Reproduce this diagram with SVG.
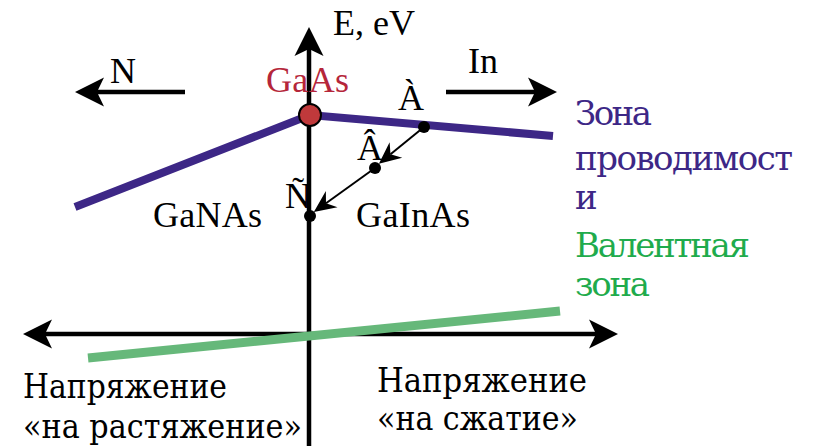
<svg xmlns="http://www.w3.org/2000/svg" width="814" height="446" viewBox="0 0 814 446">
<style>
text{font-family:"Liberation Serif","Times New Roman",serif;fill:#000}
.lbl{font-size:36px}
.side{font-size:34px;font-family:"DejaVu Serif","Liberation Serif",serif}
.bot{font-size:34px;font-family:"DejaVu Serif Condensed","DejaVu Serif","Liberation Serif",serif}
.purple{fill:#3d2786}
.green{fill:#1fab4c}
.axis{stroke:#000;stroke-width:4.5;fill:none}
.thin{stroke:#000;stroke-width:2;fill:none}
.dot{fill:#000}
</style>
<defs>
<marker id="big" markerUnits="userSpaceOnUse" orient="auto-start-reverse" markerWidth="40" markerHeight="40" refX="0" refY="0" viewBox="-10 -20 40 40" overflow="visible">
<path d="M22,0 L-7,-14.5 L0,0 L-7,14.5 Z" fill="#000"/>
</marker>
<marker id="small" markerUnits="userSpaceOnUse" orient="auto" markerWidth="30" markerHeight="30" refX="0" refY="0" viewBox="-10 -15 30 30" overflow="visible">
<path d="M15,0 L-7,-10 L0,0 L-7,10 Z" fill="#000"/>
</marker>
</defs>
<g id="connectors">
<line class="axis" x1="309" y1="446" x2="309" y2="49" marker-end="url(#big)"/>
<line class="axis" x1="45" y1="334" x2="596" y2="334" marker-start="url(#big)" marker-end="url(#big)"/>
<line class="axis" x1="185" y1="92" x2="97" y2="92" marker-end="url(#big)"/>
<line class="axis" x1="446" y1="92" x2="535" y2="92" marker-end="url(#big)"/>
<polyline id="conduction" points="75,207 310,115 553,136" fill="none" stroke="#3d2786" stroke-width="8"/>
<line id="valence" x1="88" y1="358" x2="560" y2="311" stroke="#66b87a" stroke-width="9"/>
<line class="thin" x1="424" y1="127" x2="390.5" y2="154.3" marker-end="url(#small)"/>
<line class="thin" x1="375" y1="168" x2="326" y2="203.2" marker-end="url(#small)"/>
</g>
<g id="gaas">
<circle cx="310" cy="115" r="11" fill="#c0393b" stroke="#000" stroke-width="2"/>
<text class="lbl" x="266" y="92" style="fill:#b5263a" textLength="83">GaAs</text>
</g>
<g id="pointA"><circle class="dot" cx="424" cy="127" r="6"/><text class="lbl" x="398" y="110">À</text></g>
<g id="pointB"><circle class="dot" cx="375" cy="168" r="6"/><text class="lbl" x="357" y="160">Â</text></g>
<g id="pointC"><circle class="dot" cx="310" cy="216" r="6"/><text class="lbl" x="285" y="208">Ñ</text></g>
<g id="labels">
<text class="lbl" x="333" y="35" textLength="82">E, eV</text>
<text class="lbl" x="110" y="83">N</text>
<text class="lbl" x="468" y="73">In</text>
<text class="lbl" x="153" y="227" textLength="109">GaNAs</text>
<text class="lbl" x="356" y="227" textLength="114">GaInAs</text>
</g>
<g id="bands-legend">
<text class="side purple" x="575" y="125" textLength="77">Зона</text>
<text class="side purple" x="575" y="170" textLength="218">проводимост</text>
<text class="side purple" x="575" y="209" textLength="19">и</text>
<text class="side green" x="575" y="257" textLength="175">Валентная</text>
<text class="side green" x="575" y="296" textLength="75">зона</text>
</g>
<g id="strain-labels">
<text class="bot" x="23" y="398" textLength="204" lengthAdjust="spacingAndGlyphs">Напряжение</text>
<text class="bot" x="23" y="438" textLength="279" lengthAdjust="spacingAndGlyphs">«на растяжение»</text>
<text class="bot" x="377" y="392" textLength="210" lengthAdjust="spacingAndGlyphs">Напряжение</text>
<text class="bot" x="377" y="430" textLength="201" lengthAdjust="spacingAndGlyphs">«на сжатие»</text>
</g>
</svg>
